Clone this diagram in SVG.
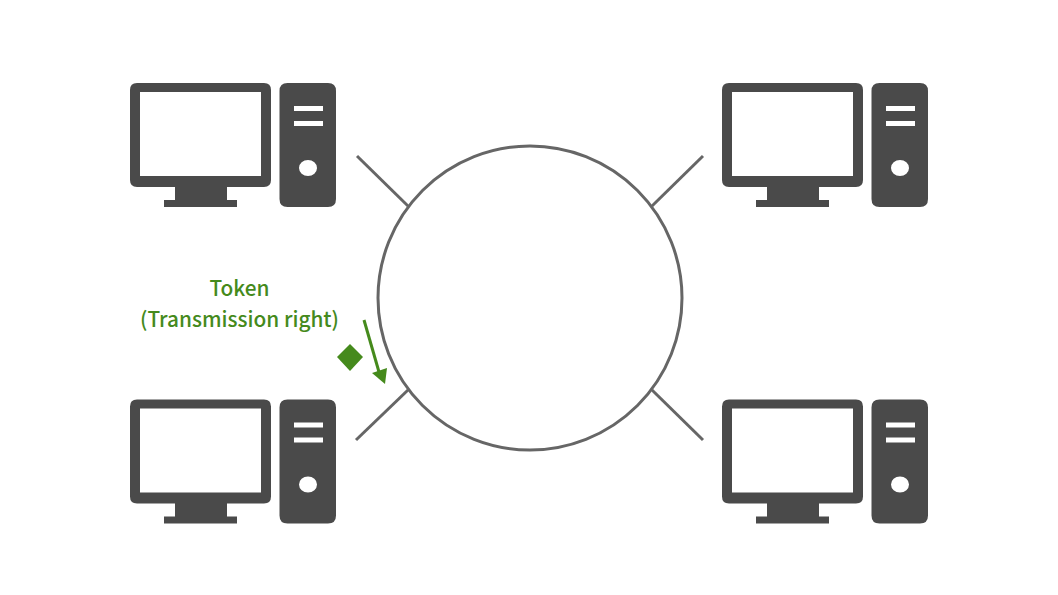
<svg xmlns="http://www.w3.org/2000/svg" width="1058" height="595" viewBox="0 0 1058 595">
<style>
.dark{fill:#4a4a4a}
.line{fill:none;stroke:#666;stroke-width:3}
.green{fill:#458a1c}
.label{fill:#458a1c;font-family:"Noto Sans CJK JP","Noto Sans",sans-serif;font-size:20.800px;font-weight:500;text-anchor:middle}
</style>
<defs>
<g id="pc">
<path class="dark" fill-rule="evenodd" d="M137 83H264Q271 83 271 90V180Q271 187 264 187H227V200H237V207H164V200H175V187H137Q130 187 130 180V90Q130 83 137 83ZM140 92V176H261V92Z"/>
<path class="dark" fill-rule="evenodd" d="M287.500 83H328Q336 83 336 91V199Q336 207 328 207H287.500Q279.500 207 279.500 199V91Q279.500 83 287.500 83ZM294 106V111H323V106ZM294 121V126H323V121ZM308 160A9 8 0 1 0 308.010 176A9 8 0 1 0 308 160Z"/>
</g>
</defs>
<g id="connectors">
<circle class="line" cx="530" cy="298" r="152"/>
<path class="line" d="M357 156L408 206"/>
<path class="line" d="M703 156L652 206"/>
<path class="line" d="M356 440L408 390"/>
<path class="line" d="M703 440L652 390"/>
</g>
<g id="node-top-left"><use href="#pc"/></g>
<g id="node-top-right"><use href="#pc" x="592"/></g>
<g id="node-bottom-left"><use href="#pc" y="316.500"/></g>
<g id="node-bottom-right"><use href="#pc" x="592" y="316.500"/></g>
<g id="token">
<text class="label" x="239.500" y="296">Token</text>
<text class="label" x="239.500" y="327">(Transmission right)</text>
<polygon class="green" points="350,344 363,357 350,371 337,357"/>
<path d="M364 320L379 372" fill="none" stroke="#458a1c" stroke-width="3"/>
<polygon class="green" points="372,373 387,368 385,384"/>
</g>
</svg>
